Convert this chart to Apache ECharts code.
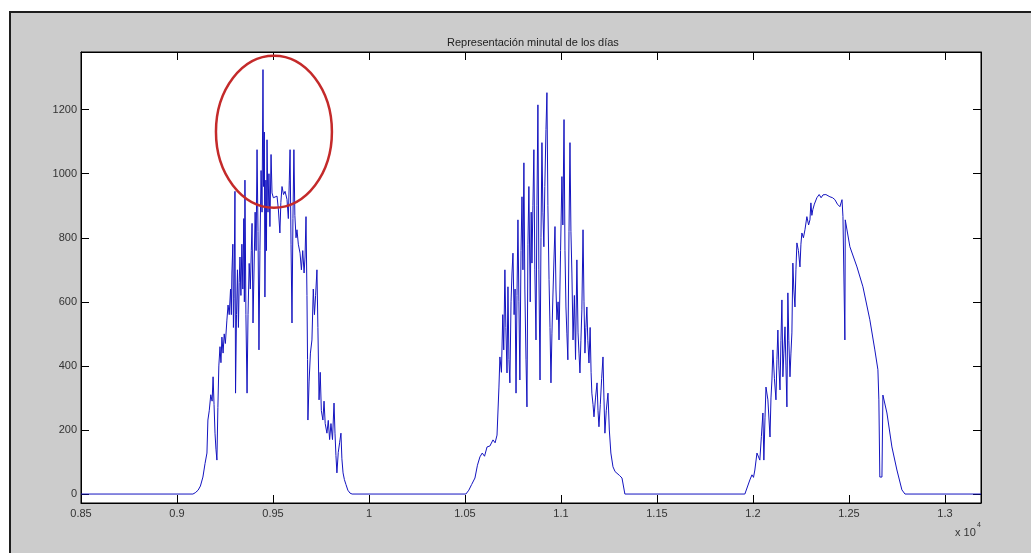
<!DOCTYPE html>
<html lang="es">
<head>
    <meta charset="UTF-8"/>
    <title>Representación minutal de los días</title>
    <script src="https://cdn.jsdelivr.net/npm/echarts@6/dist/echarts.min.js"></script>
    <style>
        html, body { margin: 0; padding: 0; background: #fff; }
        #frame {
            position: absolute; left: 9px; top: 11px; width: 1022px; height: 542px;
            background: #cccccc; border-top: 2px solid #1e1e1e; border-left: 2px solid #1e1e1e;
            box-sizing: border-box;
        }
        #main { position: absolute; left: 0; top: 0; width: 1031px; height: 553px; }
    </style>
</head>
<body>
<div id="frame"></div>
<div id="main"></div>
<script type="text/javascript">
    // minuto, potencia -- leido a ojo de la figura
    var dia1 = [
        [8500,0],[9083,0],[9095,4],[9110,12],[9122,25],[9135,53],[9146,95],[9156,128],[9161,231],[9168,260],
        [9176,310],[9183,290],[9188,366],[9193,280],[9198,190],[9203,140],[9208,106],[9213,270],[9218,400],[9224,460],
        [9229,410],[9234,490],[9240,440],[9246,500],[9252,470],[9260,543],[9266,590],[9272,560],[9279,640],[9283,560],
        [9286,690],[9291,780],[9294,520],[9297,610],[9302,945],[9305,315],[9310,560],[9315,700],[9320,520],[9324,660],
        [9328,740],[9333,620],[9338,780],[9343,640],[9348,860],[9351,600],[9354,980],[9359,560],[9365,315],[9370,560],
        [9376,720],[9382,640],[9387,760],[9391,845],[9396,534],[9401,690],[9407,880],[9412,760],[9417,1075],[9422,820],
        [9427,450],[9432,760],[9438,1010],[9443,880],[9448,1325],[9451,960],[9455,1130],[9458,615],[9463,980],[9466,760],
        [9469,1106],[9474,880],[9479,1000],[9484,835],[9490,1060],[9495,940],[9502,925],[9510,930],[9521,930],[9528,890],
        [9536,815],[9541,910],[9547,960],[9555,935],[9563,945],[9573,920],[9580,860],[9585,980],[9589,1075],[9594,780],
        [9599,534],[9604,860],[9609,1075],[9614,870],[9620,800],[9625,825],[9632,780],[9641,752],[9648,700],[9655,760],
        [9662,690],[9667,740],[9672,866],[9677,620],[9680,420],[9682,231],[9688,350],[9695,440],[9703,481],[9710,640],
        [9716,560],[9722,620],[9729,700],[9734,520],[9740,294],[9746,380],[9752,260],[9760,231],[9766,290],[9772,220],
        [9781,190],[9788,230],[9795,170],[9802,220],[9810,170],[9818,284],[9823,190],[9828,120],[9833,66],[9840,130],
        [9847,160],[9854,190],[9859,110],[9865,66],[9872,45],[9880,30],[9890,12],[9901,3],[9912,0]
    ];
    var dia2 = [
        [10505,0],[10520,12],[10535,30],[10552,50],[10565,90],[10578,116],[10590,128],[10602,118],[10615,147],[10630,150],
        [10646,169],[10657,160],[10667,184],[10677,334],[10682,428],[10690,380],[10697,560],[10702,450],[10708,700],[10713,520],
        [10719,378],[10724,647],[10729,420],[10734,347],[10740,600],[10745,690],[10750,752],[10756,560],[10761,640],[10766,315],
        [10771,620],[10776,856],[10781,600],[10786,356],[10792,760],[10797,928],[10802,700],[10807,1034],[10812,640],[10818,419],
        [10823,272],[10828,780],[10833,960],[10840,600],[10845,880],[10849,721],[10854,900],[10859,1075],[10864,700],[10870,481],
        [10875,900],[10880,1215],[10885,700],[10891,356],[10896,800],[10901,1097],[10906,880],[10911,772],[10916,960],[10922,1138],
        [10927,1253],[10932,900],[10938,669],[10943,520],[10948,347],[10953,500],[10958,615],[10964,740],[10969,835],[10974,640],
        [10979,544],[10985,600],[10990,481],[10998,760],[11005,991],[11010,840],[11016,1169],[11021,760],[11026,584],[11031,500],
        [11036,419],[11042,820],[11047,1097],[11052,820],[11057,690],[11063,481],[11070,620],[11076,420],[11083,731],[11089,503],
        [11094,440],[11099,378],[11104,480],[11109,575],[11115,825],[11120,600],[11125,440],[11130,520],[11135,584],[11140,480],
        [11146,409],[11152,520],[11157,380],[11161,315],[11167,280],[11172,241],[11180,300],[11188,347],[11193,260],[11198,210],
        [11205,280],[11212,360],[11219,428],[11224,300],[11229,190],[11236,260],[11245,315],[11252,200],[11260,128],[11271,85],
        [11282,70],[11292,66],[11305,58],[11318,50],[11333,0]
    ];
    var dia3 = [
        [11958,0],[11984,44],[11995,60],[12003,52],[12010,75],[12021,128],[12036,106],[12044,180],[12052,253],[12057,106],
        [12063,240],[12068,334],[12078,294],[12089,178],[12094,300],[12099,356],[12104,450],[12112,360],[12120,294],[12125,420],
        [12130,512],[12135,400],[12141,325],[12146,480],[12151,606],[12156,366],[12161,440],[12167,522],[12172,400],[12177,272],
        [12182,628],[12187,480],[12193,366],[12198,440],[12203,503],[12208,721],[12213,640],[12219,584],[12224,700],[12229,784],
        [12237,760],[12245,709],[12250,780],[12255,815],[12263,800],[12271,825],[12281,866],[12290,840],[12297,856],[12302,909],
        [12307,870],[12312,888],[12320,905],[12333,925],[12345,935],[12355,925],[12365,934],[12380,935],[12390,930],[12401,928],
        [12415,925],[12427,919],[12440,905],[12453,897],[12464,919],[12469,866],[12477,870],[12479,481],[12481,856],[12505,772],
        [12542,709],[12573,647],[12609,544],[12635,450],[12651,388],[12656,294],[12661,53],[12672,53],[12677,309],[12698,253],
        [12724,147],[12750,75],[12776,13],[12792,0],[13188,0]
    ];

    var xTicks = [8500, 9000, 9500, 10000, 10500, 11000, 11500, 12000, 12500, 13000];
    var yTicks = [0, 200, 400, 600, 800, 1000, 1200];

    var serie = dia1.concat(dia2, dia3);

    // zona marcada en rojo (centro y radios en unidades de los ejes)
    var marca = [9505, 1131, 302, 237];

    var fuente = 'Liberation Sans';
    var chart = echarts.init(document.getElementById('main'));

    var ejeX = function (pos, labels) {
        return {
            type: 'value', position: pos, min: 8500, max: 13188,
            axisLine: { show: true, onZero: false, lineStyle: { color: '#000', width: 1 } },
            axisTick: { show: true, inside: true, length: 8, customValues: xTicks, lineStyle: { color: '#000' } },
            axisLabel: {
                show: labels, customValues: xTicks, margin: 5, color: '#333', fontSize: 11, fontFamily: fuente,
                formatter: function (v) { return String(v / 10000); }
            },
            splitLine: { show: false }
        };
    };
    var ejeY = function (pos, labels) {
        return {
            type: 'value', position: pos, min: -28, max: 1380,
            axisLine: { show: true, onZero: false, lineStyle: { color: '#000', width: 1 } },
            axisTick: { show: true, inside: true, length: 8, customValues: yTicks, lineStyle: { color: '#000' } },
            axisLabel: {
                show: labels, customValues: yTicks, margin: 4, color: '#333', fontSize: 11, fontFamily: fuente,
                formatter: function (v) { return String(v); }
            },
            splitLine: { show: false }
        };
    };

    var option = {
        animation: false,
        title: {
            text: 'Representación minutal de los días',
            left: 442, top: 32,
            textStyle: { fontSize: 11, fontWeight: 'normal', color: '#222', fontFamily: fuente }
        },
        grid: { left: 81, top: 52, right: 50, bottom: 50, show: true, backgroundColor: '#fff', borderColor: '#000', borderWidth: 1 },
        xAxis: [ejeX('bottom', true), ejeX('top', false)],
        yAxis: [ejeY('left', true), ejeY('right', false)],
        series: [{
            type: 'line', data: serie, xAxisIndex: 0, yAxisIndex: 0,
            symbol: 'none', lineStyle: { color: '#1414c0', width: 1 }
        }]
    };
    chart.setOption(option);

    var c = chart.convertToPixel({ xAxisIndex: 0, yAxisIndex: 0 }, [marca[0], marca[1]]);
    var e = chart.convertToPixel({ xAxisIndex: 0, yAxisIndex: 0 }, [marca[0] + marca[2], marca[1] + marca[3]]);
    chart.setOption({
        graphic: [
            { type: 'ellipse', shape: { cx: c[0], cy: c[1], rx: Math.abs(e[0] - c[0]), ry: Math.abs(e[1] - c[1]) },
              style: { fill: 'none', stroke: '#c42a2a', lineWidth: 2.5 }, z: 100 },
            { type: 'text', left: 955, top: 527, style: { text: 'x 10', fill: '#333', font: '11px ' + fuente } },
            { type: 'text', left: 977, top: 522, style: { text: '4', fill: '#333', font: '7px ' + fuente } }
        ]
    });
</script>
</body>
</html>
